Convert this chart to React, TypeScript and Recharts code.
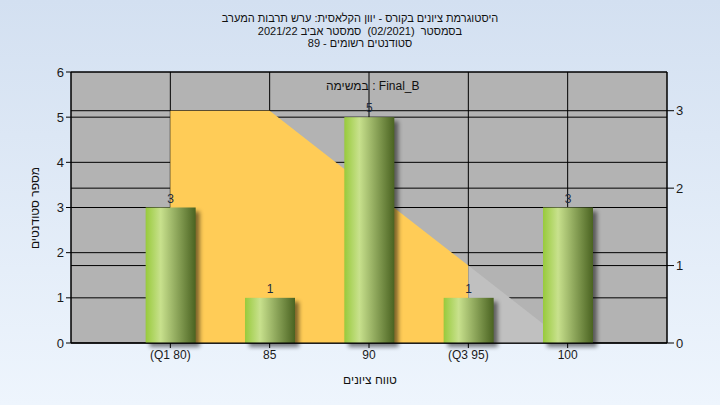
import { ComposedChart, Bar, Area, XAxis, YAxis, CartesianGrid, LabelList } from 'recharts';

// grade buckets sit on a numeric axis 0..6 so the plot keeps an empty slot at both ends
const positions = [1, 2, 3, 4, 5];
const tickLabels = ['(Q1 80)', '85', '90', '(Q3 95)', '100'];
const studentCounts = [3, 1, 5, 1, 3];
// curve on the right axis: orange between Q1 and Q3, light gray tail after Q3
const curveInRange = [3, 3, 2, 1, null];
const curveTail = [null, null, null, 1, 0];

const titleLines = [
  'היסטוגרמת ציונים בקורס - יוון הקלאסית: ערש תרבות המערב',
  'בסמסטר  (02/2021)  סמסטר אביב 2021/22',
  'סטודנטים רשומים - 89',
];

const data = positions.map((x, i) => ({
  x,
  count: studentCounts[i],
  band: curveInRange[i],
  tail: curveTail[i],
}));

const font = '"Liberation Sans", Arial, sans-serif';
const tickStyle = { fontSize: 12, fill: '#1a1a1a', fontFamily: font };

const BarShape = (props: any) => {
  const { x, y, width, height } = props;
  if (!height) return null;
  return (
    <g>
      <rect x={x + 4} y={y + 4} width={width} height={height} fill="#000" opacity={0.5} filter="url(#barShadow)" />
      <rect x={x} y={y} width={width} height={height} fill="url(#barGrad)" />
    </g>
  );
};

export default function App() {
  return (
    <div
      style={{
        position: 'absolute',
        left: 0,
        top: 0,
        width: 720,
        height: 405,
        background: 'linear-gradient(180deg, #D3E0F1 0%, #EEF5FD 100%)',
        fontFamily: font,
        color: '#111',
      }}
    >
      <div
        style={{
          position: 'absolute',
          left: 0,
          top: 12,
          width: 720,
          textAlign: 'center',
          fontSize: 11,
          lineHeight: '12.5px',
          direction: 'rtl',
          whiteSpace: 'pre',
        }}
      >
        {titleLines.map((t) => (
          <div key={t}>{t}</div>
        ))}
      </div>

      <ComposedChart
        width={720}
        height={405}
        data={data}
        margin={{ top: 72, right: 13, bottom: 32, left: 31 }}
      >
        <defs>
          <linearGradient id="barGrad" x1="0" y1="0" x2="1" y2="0">
            <stop offset="0" stopColor="#98CA3C" />
            <stop offset="0.3" stopColor="#C8E18D" />
            <stop offset="1" stopColor="#4A6321" />
          </linearGradient>
          <filter id="barShadow" x="-30%" y="-30%" width="160%" height="160%">
            <feGaussianBlur stdDeviation="2" />
          </filter>
        </defs>
        <CartesianGrid yAxisId="left" stroke="#000" fill="#B3B3B3" fillOpacity={1} vertical={true} />
        <CartesianGrid yAxisId="right" stroke="#000" vertical={false} />
        <XAxis
          dataKey="x"
          type="number"
          domain={[0, 6]}
          ticks={positions}
          tickFormatter={(v: number) => tickLabels[positions.indexOf(v)] ?? ''}
          tick={tickStyle}
          tickSize={5}
          stroke="#000"
          height={30}
          interval={0}
        />
        <YAxis
          yAxisId="left"
          domain={[0, 6]}
          ticks={[0, 1, 2, 3, 4, 5, 6]}
          tick={{ ...tickStyle, fontSize: 13 }}
          tickSize={5}
          stroke="#000"
          width={40}
        />
        <YAxis
          yAxisId="right"
          orientation="right"
          domain={[0, 3.5]}
          ticks={[0, 1, 2, 3]}
          tick={{ ...tickStyle, fontSize: 13 }}
          tickSize={7}
          stroke="#000"
          width={40}
        />
        <Area
          yAxisId="right"
          type="linear"
          dataKey="band"
          fill="#FFCC57"
          fillOpacity={1}
          stroke="none"
          isAnimationActive={false}
        />
        <Area
          yAxisId="right"
          type="linear"
          dataKey="tail"
          fill="#C0C0C0"
          fillOpacity={1}
          stroke="none"
          isAnimationActive={false}
        />
        <Bar yAxisId="left" dataKey="count" barSize={50} shape={BarShape} isAnimationActive={false}>
          <LabelList dataKey="count" position="top" offset={5} style={{ fontSize: 12, fill: '#1c2a40', fontFamily: font }} />
        </Bar>
      </ComposedChart>

      {/* series caption inside the plot */}
      <div style={{ position: 'absolute', left: 326, top: 79, fontSize: 12, whiteSpace: 'nowrap' }}>
        במשימה : Final_B
      </div>

      <div style={{ position: 'absolute', left: 270, top: 373, width: 200, textAlign: 'center', fontSize: 12, direction: 'rtl' }}>
        טווח ציונים
      </div>
      <div
        style={{
          position: 'absolute',
          left: 35,
          top: 208,
          fontSize: 12,
          whiteSpace: 'nowrap',
          direction: 'rtl',
          transform: 'translate(-50%, -50%) rotate(-90deg)',
        }}
      >
        מספר סטודנטים
      </div>
    </div>
  );
}
